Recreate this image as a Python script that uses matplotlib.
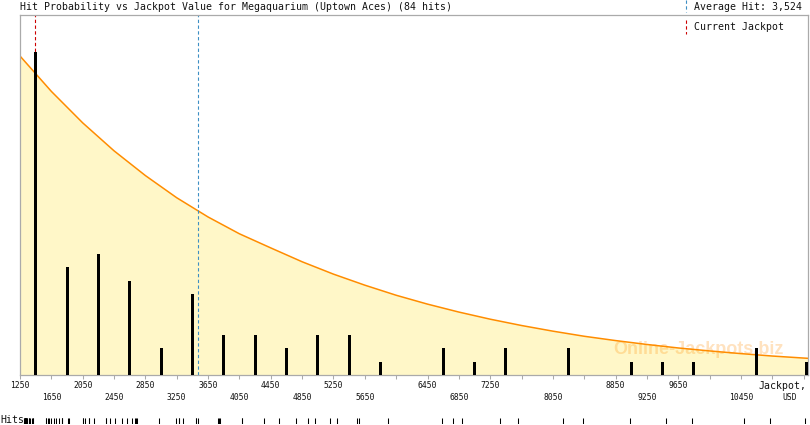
import numpy as np
import matplotlib
matplotlib.use("Agg")
import matplotlib.pyplot as plt
from matplotlib.lines import Line2D

title = "Hit Probability vs Jackpot Value for Megaquarium (Uptown Aces) (84 hits)"
average_hit = 3524
average_label = "Average Hit: 3,524"
current_jackpot = 1440

# every single hit (USD)
hits = [1300, 1305, 1310, 1312, 1315, 1318, 1320, 1322, 1325, 1328, 1330, 1335, 1340,
        1365, 1370, 1375, 1405, 1410, 1415, 1578, 1580, 1611, 1615, 1640,
        1680, 1713, 1748, 1782, 1783, 1785, 1866, 1870,
        2058, 2060, 2084, 2127, 2130, 2199, 2348, 2350, 2395,
        2459, 2556, 2620, 2684, 2719, 2731, 2744,
        3029, 3238,
        3280, 3285, 3331, 3494, 3500, 3527,
        3782, 3791, 3804,
        4081, 4085, 4366,
        4561, 4766,
        4919, 5008, 5209,
        5294, 5553, 5579,
        5945,
        6635, 6775, 6890, 7370, 7600, 8175, 8430,
        9040, 9496, 9828, 10487, 10819, 11262]

bin_edges = list(range(1250, 11651, 400))

# fitted probability curve (in hits per bin) every 400 USD
curve_x = list(range(1250, 11651, 400))
curve_y = [23.72, 21.09, 18.75, 16.67, 14.83, 13.18, 11.75, 10.50, 9.45, 8.42,
           7.50, 6.68, 5.93, 5.27, 4.68, 4.15, 3.68, 3.26, 2.88, 2.56,
           2.27, 2.01, 1.79, 1.59, 1.41, 1.26, 1.12]

tick_values = list(range(1250, 11251, 400))
labels_top = [1250, 2050, 2850, 3650, 4450, 5250, 6450, 7250, 8850, 9650]
labels_low = [1650, 2450, 3250, 4050, 4850, 5650, 6850, 8050, 9250, 10450]

W, H = 810, 425
mono = "DejaVu Sans Mono"
gray = "#aaaaaa"
x_max = 11305
y_max = 26.77

fig = plt.figure(figsize=(W / 100, H / 100), dpi=100)
ax = fig.add_axes([20 / W, 50 / H, 788 / W, 360 / H])

counts, _ = np.histogram(hits, bins=bin_edges)
centers = np.array(bin_edges[:-1]) + 200
centers = np.minimum(centers, x_max - 18)  # last bin gets pinned to the edge

ax.fill_between(curve_x, curve_y, 0, color="#fff7c8", lw=0, zorder=1)
ax.text(0.861, 0.072, "Online-Jackpots.biz", transform=ax.transAxes,
        family="Liberation Sans", weight="bold", fontsize=13, color="#ff8c00",
        alpha=0.25, ha="center", va="center", zorder=1.5)
ax.plot(curve_x, curve_y, color="#ff8c00", lw=1.1, zorder=2)
ax.axvline(average_hit, color="#3d8fc4", lw=0.8, dashes=(3, 2.2), zorder=2.5)
ax.axvline(current_jackpot, color="#cc0000", lw=0.8, dashes=(3, 2.2), zorder=2.5)
ax.bar(centers, counts, width=38, color="black", lw=0, zorder=3)

ax.set_xlim(1250, x_max)
ax.set_ylim(0, y_max)
ax.set_yticks([])
ax.set_xticks(tick_values)
ax.tick_params(axis="x", length=3, width=0.75, color=gray, labelbottom=False)
for s in ax.spines.values():
    s.set_color(gray)
    s.set_linewidth(0.9)

xt = ax.get_xaxis_transform()
for t in tick_values:
    if t in labels_top:
        ax.text(t, -11 / 360, str(t), transform=xt, ha="center", va="center",
                family=mono, fontsize=5.8, color="#111111")
    elif t in labels_low:
        ax.text(t, -23 / 360, str(t), transform=xt, ha="center", va="center",
                family=mono, fontsize=5.8, color="#111111")
ax.text(786 / 788, -11 / 360, "Jackpot,", transform=ax.transAxes, ha="right", va="center",
        family=mono, fontsize=7.1, color="#111111")
ax.text(770 / 788, -23 / 360, "USD", transform=ax.transAxes, ha="center", va="center",
        family=mono, fontsize=5.8, color="#111111")

# title and legend above the plot
fig.text(20 / W, 1 - 7 / H, title, family=mono, fontsize=7.1, color="#111111",
         ha="left", va="center")
fig.text(694 / W, 1 - 7 / H, average_label, family=mono, fontsize=7.1, color="#111111",
         ha="left", va="center")
fig.text(694 / W, 1 - 27 / H, "Current Jackpot", family=mono, fontsize=7.1, color="#111111",
         ha="left", va="center")
fig.add_artist(Line2D([686 / W, 686 / W], [1 - 0 / H, 1 - 12 / H], color="#3d8fc4",
                      lw=0.8, dashes=(3, 2.2), transform=fig.transFigure))
fig.add_artist(Line2D([686 / W, 686 / W], [1 - 20 / H, 1 - 34 / H], color="#cc0000",
                      lw=0.8, dashes=(3, 2.2), transform=fig.transFigure))

# rug of single hits
ax_r = fig.add_axes([20 / W, 1 / H, 788 / W, 6 / H])
ax_r.vlines(hits, 0, 1, color="black", lw=0.75)
ax_r.set_xlim(1250, x_max)
ax_r.set_ylim(0, 1)
ax_r.axis("off")
fig.text(0.5 / W, 1 - 420 / H, "Hits", family=mono, fontsize=7.1, color="#111111",
         ha="left", va="center")

fig.savefig("out.png", dpi=100)
